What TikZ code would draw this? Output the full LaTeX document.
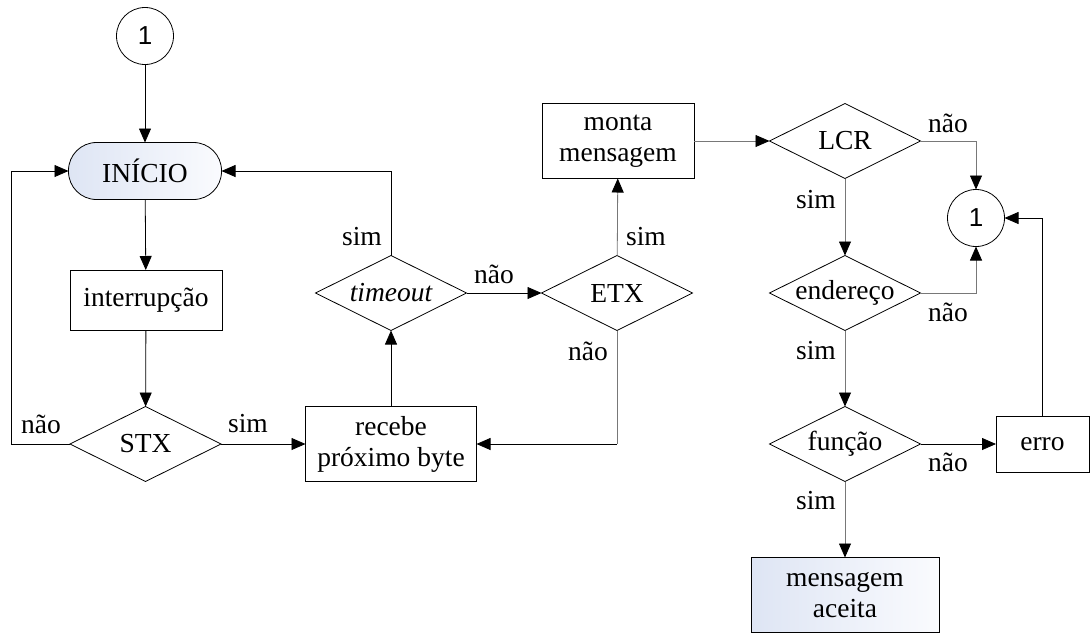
\documentclass[tikz,border=0pt]{standalone}
\usepackage{fontspec}
\setmainfont{Liberation Serif}
\newfontfamily\arialfont{Liberation Sans}
\usetikzlibrary{shapes.geometric,arrows.meta}
\definecolor{fillA}{RGB}{222,229,244}
\definecolor{fillB}{RGB}{250,251,254}
\definecolor{lgray}{RGB}{120,120,120}
\begin{document}
\begin{tikzpicture}[x=1pt,y=-1pt,
 font=\fontsize{27.5}{31}\selectfont,
 every node/.style={inner sep=0pt, outer sep=0pt},
 box/.style={draw, line width=0.8pt, rectangle, align=center},
 dec/.style={draw, diamond, line width=0.8pt, minimum width=151pt, minimum height=75pt},
 conn/.style={circle, draw, line width=0.8pt, minimum size=57pt, font=\arialfont\fontsize{26}{26}\selectfont},
 arr/.style={-{Triangle[length=14pt,width=12pt,color=black]}, line width=0.8pt},
 garr/.style={arr, draw=lgray},
 lbl/.style={font=\fontsize{27.5}{31}\selectfont}
]
\path[use as bounding box] (0,0) rectangle (1090,633);

\node[conn] (c1) at (145,36) {1};
\node[box, rounded corners=28pt, minimum width=153pt, minimum height=57pt, left color=fillA, right color=fillB] (ini) at (145,171) {INÍCIO};
\node[box, minimum width=152pt, minimum height=60pt] (int) at (146,300) {interrupção};
\node[dec] (stx) at (145.5,444) {\makebox[0pt]{STX}};
\node[box, minimum width=171pt, minimum height=75pt] (rec) at (391,444) {recebe\\próximo byte};
\node[dec] (to) at (391,293) {\makebox[0pt]{\itshape timeout}};
\node[dec] (etx) at (617,293) {\makebox[0pt]{ETX}};
\node[box, minimum width=152pt, minimum height=75pt] (mon) at (618,141) {monta\\mensagem};
\node[dec] (lcr) at (845,141) {\makebox[0pt]{LCR}};
\node[conn] (c2) at (976,218) {1};
\node[dec] (end) at (845,293) {\makebox[0pt]{endereço}};
\node[dec] (fun) at (845,444) {\makebox[0pt]{função}};
\node[box, minimum width=93pt, minimum height=56pt] (err) at (1042.5,444) {erro};
\node[box, minimum width=188pt, minimum height=75pt, left color=fillA, right color=fillB] (msg) at (845,595) {mensagem\\aceita};

\coordinate (etxc) at (617,444);

\draw[arr] (c1) -- (ini);
\draw[arr] (ini) -- (int);
\draw[arr] (int) -- (stx);
\draw[arr] (stx.west) -- ++(-58.5,0) |- (ini.west);
\draw[arr] (stx) -- (rec);
\draw[arr] (rec) -- (to);
\draw[arr] (to.north) |- (ini.east);
\draw[arr] (to) -- (etx);
\draw[garr] (etx) -- (mon);
\draw[draw=lgray, line width=0.8pt] (etx.south) -- (etxc);
\draw[arr] (etxc) -- (rec.east);
\draw[garr] (mon) -- (lcr);
\draw[garr] (lcr.east) -| (c2.north);
\draw[garr] (lcr) -- (end);
\draw[garr] (end.east) -| (c2.south);
\draw[garr] (end) -- (fun);
\draw[arr] (fun) -- (err);
\draw[arr] (err.north) |- (c2.east);
\draw[garr] (fun) -- (msg);

\node[lbl] (l1) at (41,424) {não};
\node[lbl] (l2) at (248,424) {sim};
\node[lbl] (l3) at (362,237) {sim};
\node[lbl] (l4) at (494,274) {não};
\node[lbl] (l5) at (646,237) {sim};
\node[lbl] (l6) at (588,351) {não};
\node[lbl] (l7) at (948,123) {não};
\node[lbl] (l8) at (816,200) {sim};
\node[lbl] (l9) at (948,312) {não};
\node[lbl] (l10) at (816,351) {sim};
\node[lbl] (l11) at (948,462) {não};
\node[lbl] (l12) at (816,501) {sim};
\end{tikzpicture}
\end{document}
